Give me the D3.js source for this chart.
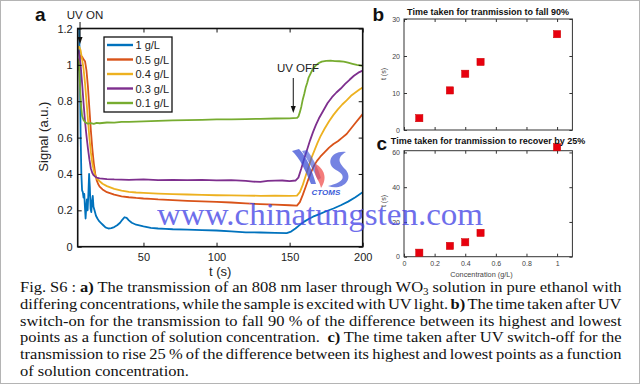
<!DOCTYPE html>
<html>
<head>
<meta charset="utf-8">
<script src="https://cdn.jsdelivr.net/npm/d3@7"></script>
<style>
  body { margin: 0; background: #fff; }
  svg { display: block; }
</style>
</head>
<body>
<svg id="fig" width="640" height="384"></svg>
<script>
// ---------------------------//
//            DATA            //
// ---------------------------//
const seriesNames  = ["1 g/L", "0.5 g/L", "0.4 g/L", "0.3 g/L", "0.1 g/L"];
const seriesColors = ["#0072BD", "#D95319", "#EDB120", "#7E2F8E", "#77AC30"];

// [t (s), signal (a.u.)]
const sig1 = [[5,1.25],[6,1.22],[6.5,0.95],[7,0.62],[7.5,0.4],[8,0.31],[8.5,0.3],[9,0.27],[9.5,0.29],[10,0.21],[10.4,0.155],[10.8,0.21],[11.3,0.26],[11.8,0.2],[12.3,0.29],[12.8,0.4],[13.3,0.33],[13.8,0.21],[14.3,0.19],[14.8,0.25],[15.3,0.28],[15.8,0.22],[16.5,0.2],[17.5,0.17],[18.5,0.155],[19.5,0.142],[21,0.13],[22.5,0.118],[24,0.106],[26,0.1],[28,0.102],[30,0.108],[32,0.118],[34,0.132],[35.5,0.148],[37,0.162],[38.5,0.158],[40,0.145],[42,0.132],[45,0.121],[50,0.112],[55,0.104],[60,0.1],[65,0.098],[70,0.096],[80,0.094],[90,0.091],[100,0.089],[110,0.084],[120,0.079],[130,0.078],[140,0.076],[148,0.075],[151,0.083],[154,0.1],[157,0.12],[160,0.138],[163,0.152],[166,0.165],[170,0.178],[175,0.195],[180,0.21],[185,0.228],[190,0.248],[195,0.272],[200,0.3]];
const sig05 = [[5,0.97],[5.5,0.99],[6,1.03],[7,1.05],[8,1.045],[9,1.03],[10,1.02],[11,0.97],[12,0.88],[13,0.76],[14,0.64],[15,0.54],[16,0.46],[17,0.4],[18,0.365],[19,0.345],[20,0.33],[22,0.315],[25,0.3],[30,0.286],[35,0.277],[40,0.272],[45,0.268],[50,0.265],[55,0.263],[60,0.26],[70,0.256],[80,0.252],[90,0.249],[100,0.247],[110,0.243],[120,0.238],[130,0.234],[140,0.231],[150,0.228],[155,0.226],[157,0.245],[159,0.285],[161,0.33],[163,0.375],[165,0.415],[167,0.45],[169,0.475],[171,0.495],[174,0.52],[177,0.545],[180,0.565],[183,0.58],[186,0.6],[189,0.62],[192,0.65],[195,0.68],[198,0.71],[200,0.73]];
const sig04 = [[5,1.09],[6,1.1],[7,1.08],[8,1.03],[9,0.98],[10,0.9],[11,0.8],[12,0.7],[13,0.6],[14,0.52],[15,0.46],[16,0.42],[17,0.39],[18,0.375],[20,0.36],[22,0.346],[25,0.333],[30,0.318],[35,0.308],[40,0.302],[45,0.298],[50,0.296],[60,0.292],[70,0.289],[80,0.287],[90,0.285],[100,0.283],[110,0.282],[120,0.281],[130,0.28],[140,0.281],[150,0.28],[155,0.281],[157,0.3],[159,0.34],[161,0.39],[163,0.44],[165,0.49],[167,0.53],[169,0.57],[171,0.605],[174,0.65],[177,0.69],[180,0.725],[183,0.755],[186,0.782],[189,0.805],[192,0.83],[195,0.848],[198,0.866],[200,0.875]];
const sig03 = [[5,1.07],[5.5,1.08],[6,1.06],[7,1.0],[8,0.9],[9,0.79],[10,0.69],[11,0.61],[12,0.54],[13,0.48],[14,0.43],[15,0.405],[16,0.392],[17,0.385],[18,0.38],[20,0.376],[25,0.372],[30,0.37],[40,0.368],[50,0.37],[60,0.366],[70,0.368],[80,0.366],[90,0.367],[100,0.365],[110,0.366],[120,0.362],[125,0.358],[130,0.356],[135,0.362],[140,0.363],[145,0.364],[150,0.361],[154,0.364],[156,0.38],[158,0.43],[160,0.485],[162,0.535],[164,0.585],[166,0.63],[168,0.67],[170,0.705],[173,0.748],[176,0.79],[179,0.822],[182,0.848],[185,0.87],[188,0.895],[191,0.918],[194,0.94],[197,0.957],[200,0.968]];
const sig01 = [[5,1.03],[5.5,1.02],[6,0.98],[6.5,0.9],[7,0.82],[7.5,0.76],[8,0.72],[9,0.697],[10,0.686],[11,0.68],[12,0.677],[14,0.68],[16,0.676],[18,0.681],[20,0.679],[25,0.683],[30,0.682],[35,0.686],[40,0.687],[50,0.689],[60,0.692],[70,0.695],[80,0.696],[90,0.698],[100,0.7],[110,0.7],[120,0.702],[130,0.703],[140,0.705],[150,0.706],[155,0.708],[156,0.715],[157,0.74],[158,0.77],[159,0.81],[160,0.84],[161,0.875],[162,0.9],[163,0.93],[164.5,0.955],[166,0.98],[168,0.997],[170,1.01],[172,1.018],[175,1.022],[178,1.023],[181,1.021],[184,1.02],[187,1.018],[190,1.012],[193,1.006],[196,1.0],[200,0.994]];
const signals = [sig1, sig05, sig04, sig03, sig01];

const uvOnTime  = 6.6;
const uvOffTime = 152.5;

const concentration = [0.1, 0.3, 0.4, 0.5, 1];
const fallTime      = [3.2, 10.7, 15.2, 18.4, 25.9];
const recoverTime   = [2.3, 6.2, 8.3, 13.7, 63];

const aTicksX   = [50, 100, 150, 200];
const aTicksY   = [0, 0.2, 0.4, 0.6, 0.8, 1, 1.2];
const bTicksY   = [0, 10, 20, 30];
const cTicksY   = [0, 20, 40, 60];
const concTicks = [0, 0.2, 0.4, 0.6, 0.8, 1];

const captionLines = [
    [["Fig. S6 : ", ""], ["a)", "b"], [" The transmission of an 808 nm laser through WO", ""], ["3", "sub"], [" solution in pure ethanol with", ""]],
    [["differing concentrations, while the sample is excited with UV light. ", ""], ["b)", "b"], [" The time taken after UV", ""]],
    [["switch-on for the transmission to fall 90 % of the difference between its highest and lowest", ""]],
    [["points as a function of solution concentration.  ", ""], ["c)", "b"], [" The time taken after UV switch-off for the", ""]],
    [["transmission to rise 25 % of the difference between its highest and lowest points as a function", ""]],
    [["of solution concentration.", ""]]
];

const SANS = "'Liberation Sans', Arial, Helvetica, sans-serif";
const SERIF = "'Liberation Serif', 'Times New Roman', serif";

const svg = d3.select("#fig");

svg.append("rect")
    .attr("x", 0.5).attr("y", 0.5)
    .attr("width", 639).attr("height", 383)
    .attr("fill", "#fff").attr("stroke", "#b4b4b4");

// ---------------------------//
//      BOXED AXES HELPER     //
// ---------------------------//
function boxAxes(g, x, y, o) {
    const [x0, x1] = x.range(), [y0, y1] = y.range();
    const fmt = d => d;
    const style = sel => {
        sel.select(".domain").remove();
        sel.selectAll("line").attr("stroke", o.color).attr("stroke-width", 1);
        sel.selectAll("text").attr("fill", o.textColor)
            .style("font-family", SANS).style("font-size", o.fs + "px");
    };
    g.append("g").attr("transform", `translate(0,${y0})`)
        .call(d3.axisBottom(x).tickValues(o.xt).tickSize(-o.tick).tickPadding(o.padX)
            .tickFormat(o.xLabels ? fmt : ""))
        .call(style);
    g.append("g").attr("transform", `translate(0,${y1})`)
        .call(d3.axisTop(x).tickValues(o.xt).tickSize(-o.tick).tickFormat(""))
        .call(style);
    g.append("g").attr("transform", `translate(${x0},0)`)
        .call(d3.axisLeft(y).tickValues(o.yt).tickSize(-o.tick).tickPadding(o.padY).tickFormat(fmt))
        .call(style);
    g.append("g").attr("transform", `translate(${x1},0)`)
        .call(d3.axisRight(y).tickValues(o.yt).tickSize(-o.tick).tickFormat(""))
        .call(style);
    g.append("rect")
        .attr("x", x0).attr("y", y1)
        .attr("width", x1 - x0).attr("height", y0 - y1)
        .attr("fill", "none").attr("stroke", o.color).attr("stroke-width", o.boxW);
}

// ---------------------------//
//          PANEL A           //
// ---------------------------//
const xA = d3.scaleLinear().domain([5, 200]).range([77.7, 362.7]);
const yA = d3.scaleLinear().domain([0, 1.2]).range([246.7, 28.5]);

svg.append("clipPath").attr("id", "clipA").append("rect")
    .attr("x", xA.range()[0]).attr("y", yA.range()[1])
    .attr("width", xA.range()[1] - xA.range()[0])
    .attr("height", yA.range()[0] - yA.range()[1]);

const gA = svg.append("g");
const line = d3.line().x(d => xA(d[0])).y(d => yA(d[1]));

gA.append("g").attr("clip-path", "url(#clipA)")
    .selectAll("path")
    .data(signals)
    .join("path")
    .attr("d", line)
    .attr("fill", "none")
    .attr("stroke", (d, i) => seriesColors[i])
    .attr("stroke-width", 1.8)
    .attr("stroke-linejoin", "round");

boxAxes(gA, xA, yA, {xt: aTicksX, yt: aTicksY, tick: 4, padX: 7, padY: 5,
    xLabels: true, fs: 11, color: "#111", textColor: "#222", boxW: 1.6});

gA.append("text")
    .attr("x", d3.mean(xA.range())).attr("y", 276)
    .attr("text-anchor", "middle")
    .style("font-family", SANS).style("font-size", "13px").attr("fill", "#222")
    .text("t (s)");
gA.append("text")
    .attr("transform", `translate(48,${d3.mean(yA.range()) - 1}) rotate(-90)`)
    .attr("text-anchor", "middle")
    .style("font-family", SANS).style("font-size", "13px").attr("fill", "#222")
    .text("Signal (a.u.)");

// legend
const legend = gA.append("g");
legend.append("rect")
    .attr("x", 104).attr("y", 37).attr("width", 68).attr("height", 75)
    .attr("fill", "#fff").attr("stroke", "#111").attr("stroke-width", 1.3);
const items = legend.selectAll("g.item")
    .data(seriesNames)
    .join("g").attr("class", "item")
    .attr("transform", (d, i) => `translate(0,${45 + i * 14.5})`);
items.append("line")
    .attr("x1", 107).attr("x2", 133)
    .attr("stroke", (d, i) => seriesColors[i]).attr("stroke-width", 2.4);
items.append("text")
    .attr("x", 135.5).attr("y", 4)
    .style("font-family", SANS).style("font-size", "11px").attr("fill", "#222")
    .text(d => d);

// UV annotations
function arrow(g, px, yStart, yEnd) {
    g.append("line").attr("x1", px).attr("x2", px).attr("y1", yStart).attr("y2", yEnd - 5)
        .attr("stroke", "#111").attr("stroke-width", 1);
    g.append("path")
        .attr("d", `M${px - 2.5},${yEnd - 7}L${px + 2.5},${yEnd - 7}L${px},${yEnd}Z`)
        .attr("fill", "#111");
}
gA.append("text").attr("x", 85).attr("y", 19).attr("text-anchor", "middle")
    .style("font-family", SANS).style("font-size", "11.5px").attr("fill", "#222").text("UV ON");
arrow(gA, xA(uvOnTime), 22, 44);
gA.append("text").attr("x", 298).attr("y", 72).attr("text-anchor", "middle")
    .style("font-family", SANS).style("font-size", "11.5px").attr("fill", "#222").text("UV OFF");
arrow(gA, xA(uvOffTime), 78, 113);

// ---------------------------//
//        PANELS B AND C      //
// ---------------------------//
const xBC = d3.scaleLinear().domain([0, 1.1]).range([404, 572.4]);
const yB = d3.scaleLinear().domain([0, 30]).range([130, 19]);
const yC = d3.scaleLinear().domain([0, 61]).range([256.7, 150.7]);

function scatterPanel(yScale, values, yt, xLabels, title, titleY, ylabY) {
    const g = svg.append("g");
    boxAxes(g, xBC, yScale, {xt: concTicks, yt: yt, tick: 3, padX: 4, padY: 4,
        xLabels: xLabels, fs: 7, color: "#333", textColor: "#444", boxW: 1});
    g.selectAll("rect.pt")
        .data(values)
        .join("rect").attr("class", "pt")
        .attr("x", (d, i) => xBC(concentration[i]) - 3.6)
        .attr("y", d => yScale(d) - 3.6)
        .attr("width", 7.2).attr("height", 7.2)
        .attr("fill", "#e8000e").attr("stroke", "#c00").attr("stroke-width", 0.5);
    g.append("text")
        .attr("x", 488).attr("y", titleY).attr("text-anchor", "middle")
        .style("font-family", SANS).style("font-size", "9px").style("font-weight", "bold")
        .attr("fill", "#111").text(title);
    g.append("text")
        .attr("transform", `translate(385.5,${ylabY}) rotate(-90)`)
        .attr("text-anchor", "middle")
        .style("font-family", SANS).style("font-size", "7px").attr("fill", "#444")
        .text("t (s)");
    return g;
}

scatterPanel(yB, fallTime, bTicksY, false, "Time taken for tranmission to fall 90%", 15, 74);
const gC = scatterPanel(yC, recoverTime, cTicksY, true, "Time taken for tranmission to recover by 25%", 144, 201);
gC.append("text")
    .attr("x", 481.5).attr("y", 276.5).attr("text-anchor", "middle")
    .style("font-family", SANS).style("font-size", "7.3px").attr("fill", "#444")
    .text("Concentration (g/L)");

// panel letters
[["a", 35, 20.7], ["b", 372.5, 21.3], ["c", 376.5, 150]].forEach(([t, px, py]) => {
    svg.append("text").attr("x", px).attr("y", py)
        .style("font-family", SANS).style("font-size", "19px").style("font-weight", "bold")
        .attr("fill", "#111").text(t);
});

// ---------------------------//
//          WATERMARK         //
// ---------------------------//
const wm = svg.append("g");
wm.append("path")
    .attr("d", "M292,151 C300,158 306,172 311,184 L316,184 C312,170 307,157 299,149 Z")
    .attr("fill", "#3b4fd6").attr("opacity", 0.75);
wm.append("path")
    .attr("d", "M302,151 C308,160 313,170 318,180 L321,178 C318,168 313,158 307,150 Z")
    .attr("fill", "#3b4fd6").attr("opacity", 0.6);
wm.append("path")
    .attr("d", "M316,164 C324,169 328,178 321,188 C320,180 312,176 316,164 Z")
    .attr("fill", "#f0504f").attr("opacity", 0.75);
wm.append("path")
    .attr("d", "M346,152 C331,150 325,164 336,170 C346,175 346,182 328,186 C341,191 354,181 346,170 C339,163 336,158 346,152 Z")
    .attr("fill", "#3b4fd6").attr("opacity", 0.7);
wm.append("text")
    .attr("x", 311.5).attr("y", 194.5)
    .style("font-family", SANS).style("font-size", "8px")
    .style("font-weight", "bold").style("font-style", "italic")
    .attr("fill", "#3a5ad8").text("CTOMS");
wm.append("text")
    .attr("x", 157).attr("y", 225)
    .attr("textLength", 326).attr("lengthAdjust", "spacingAndGlyphs")
    .style("font-family", SERIF).style("font-size", "32px")
    .attr("fill", "#4646e6").attr("opacity", 0.78)
    .text("www.chinatungsten.com");

// ---------------------------//
//           CAPTION          //
// ---------------------------//
// the caption glyphs are a little wider than the font at this size:
// stretch every line by the factor that makes line 3 fill the column
const capLeft = 20, capRight = 622;
const capLines = captionLines.map((parts, li) => {
    const t = svg.append("text")
        .attr("x", 0).attr("y", 0)
        .style("font-family", SERIF).style("font-size", "15px")
        .attr("fill", "#111")
        .style("white-space", "pre");
    let inSub = false;
    parts.forEach(([s, kind]) => {
        const ts = t.append("tspan").text(s);
        if (kind === "b") ts.style("font-weight", "bold");
        if (kind === "sub") { ts.style("font-size", "10px").attr("dy", 3); inSub = true; }
        else if (inSub) { ts.attr("dy", -3); inSub = false; }
    });
    return {t, parts, li, len: t.node().getComputedTextLength()};
});
const stretch = (capRight - capLeft - 2) / capLines[2].len;
capLines.forEach(({t, parts, li, len}) => {
    t.attr("transform", `translate(${capLeft},${292 + li * 16.75}) scale(${stretch},1)`);
    if (li < capLines.length - 1) {
        const text = parts.map(p => p[0]).join("");
        const spaces = (text.match(/ /g) || []).length;
        const extra = (capRight - capLeft) / stretch - len;
        t.style("word-spacing", (extra / spaces) + "px");
    }
});
</script>
</body>
</html>
